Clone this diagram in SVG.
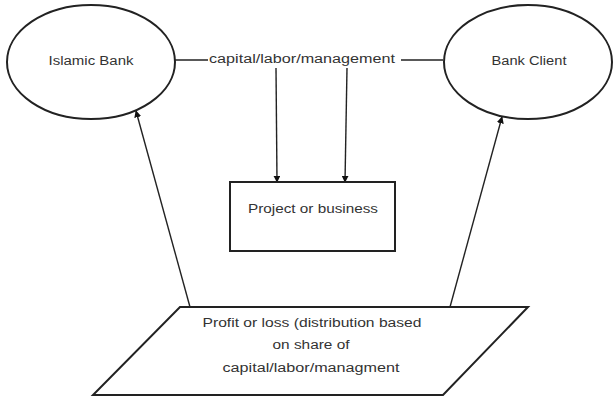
<svg xmlns="http://www.w3.org/2000/svg" width="613" height="398" viewBox="0 0 613 398">
<style>
.shape{fill:#fff;stroke:#222;stroke-width:2}
.line{fill:none;stroke:#222;stroke-width:1.4}
text{font-family:"Liberation Sans",Arial,sans-serif;font-size:12px;fill:#333;text-anchor:middle;dominant-baseline:central}
</style>
<defs>
<marker id="ah" viewBox="0 0 10 10" refX="9" refY="5" markerWidth="5" markerHeight="5" orient="auto">
<path d="M0,0 L10,5 L0,10 z" fill="#111"/>
</marker>
</defs>
<rect width="613" height="398" fill="#fff"/>
<g id="connectors">
<line class="line" x1="175" y1="60" x2="208" y2="60"/>
<line class="line" x1="401" y1="60" x2="443" y2="60"/>
<line class="line" x1="276" y1="68" x2="277" y2="182" marker-end="url(#ah)"/>
<line class="line" x1="347" y1="68" x2="345" y2="182" marker-end="url(#ah)"/>
<line class="line" x1="190" y1="307" x2="136" y2="111" marker-end="url(#ah)"/>
<line class="line" x1="450" y1="307" x2="502" y2="117" marker-end="url(#ah)"/>
</g>
<g id="label-capital">
<text x="302" y="59" textLength="186" lengthAdjust="spacingAndGlyphs">capital/labor/management</text>
</g>
<g id="islamic-bank">
<ellipse class="shape" cx="91" cy="62" rx="84" ry="57"/>
<text x="91" y="61" textLength="85" lengthAdjust="spacingAndGlyphs">Islamic Bank</text>
</g>
<g id="bank-client">
<ellipse class="shape" cx="528" cy="62" rx="84" ry="57"/>
<text x="529" y="61" textLength="75" lengthAdjust="spacingAndGlyphs">Bank Client</text>
</g>
<g id="project">
<rect class="shape" x="230" y="182" width="165" height="69"/>
<text x="313" y="209" textLength="130" lengthAdjust="spacingAndGlyphs">Project or business</text>
</g>
<g id="profit-loss">
<polygon class="shape" points="180,307 528,307 443,395 93,395"/>
<text x="312" y="323" textLength="219" lengthAdjust="spacingAndGlyphs">Profit or loss (distribution based</text>
<text x="311" y="345" textLength="77" lengthAdjust="spacingAndGlyphs">on share of</text>
<text x="311" y="368" textLength="177" lengthAdjust="spacingAndGlyphs">capital/labor/managment</text>
</g>
</svg>
